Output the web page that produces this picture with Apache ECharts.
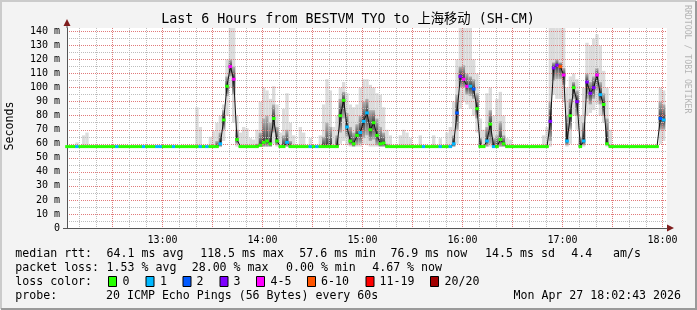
<!DOCTYPE html>
<html><head><meta charset="utf-8">
<script src="https://cdn.jsdelivr.net/npm/echarts@6/dist/echarts.min.js"></script>
<style>html,body{margin:0;padding:0;background:#f3f3f3}#c{width:697px;height:310px}</style>
</head><body><div id="c"></div>
<script>
// ---- data ----
const startMinuteOfDay = 12 * 60 + 2 + 43 / 60;   // 12:02:43
const stepMinutes = 2;
const spanMinutes = 360;
const hourLabels = ['13:00', '14:00', '15:00', '16:00', '17:00', '18:00'];
const title = 'Last 6 Hours from BESTVM TYO to 上海移动 (SH-CM)';
const yTitle = 'Seconds';

const median = [
 58,58,58,58,58,58,58,58,58,58,
 58,58,58,58,58,58,58,58,58,58,
 58,58,58,58,58,58,58,58,58,58,
 58,58,58,58,58,58,58,58,58,58,
 58,58,58,58,58,58,60,77,101,115,
 106,63,58,58,58,58,58,58,59,61,
 62,60,78,62,58,58,61,58,58,58,
 58,58,58,58,58,58,58,58,58,58,
 58,58,80,91,72,62,60,66,68,76,
 82,70,75,66,60,60.5,58,58,58,58,
 58,58,58,58,58,58,58,58,58,58,
 58,58,58,58,58,58,60,82,108,106,
 101,101,99,85,58,58,62,74,58,58,
 63,60,58,58,58,58,58,58,58,58,
 58,58,58,58,58,76,114,116,115,109,
 62,80,100,90,58,62,104,96,100,109,
 95,88,60,58,58,58,58,58,58,58,
 58,58,58,58,58,58,58,58,78,77,
 null];
const minPing = [
 57.6,57.6,57.6,57.6,57.6,57.6,57.6,57.6,57.6,57.6,
 57.6,57.6,57.6,57.6,57.6,57.6,57.6,57.6,57.6,57.6,
 57.6,57.6,57.6,57.6,57.6,57.6,57.6,57.6,57.6,57.6,
 57.6,57.6,57.6,57.6,57.6,57.6,57.6,57.6,57.6,57.6,
 57.6,57.6,57.6,57.6,57.6,57.6,57.6,62,80,100,
 75,58,57.6,57.6,57.6,57.6,57.6,57.6,57.6,57.7,
 57.7,57.7,60,58,57.6,57.6,57.7,57.6,57.6,57.6,
 57.6,57.6,57.6,57.6,57.6,57.6,57.6,57.6,57.6,57.6,
 57.6,57.6,60,62,59,58,57.7,58,58,60,
 59,58,58,58,57.7,57.7,57.6,57.6,57.6,57.6,
 57.6,57.6,57.6,57.6,57.6,57.6,57.6,57.6,57.6,57.6,
 57.6,57.6,57.6,57.6,57.6,57.6,57.7,60,85,90,
 88,85,80,68,57.6,57.6,57.7,58,57.6,57.6,
 57.7,57.7,57.6,57.6,57.6,57.6,57.6,57.6,57.6,57.6,
 57.6,57.6,57.6,57.6,57.6,58,95,92,92,90,
 58,60,80,70,57.6,58,80,82,84,88,
 80,75,58,57.6,57.6,57.6,57.6,57.6,57.6,57.6,
 57.6,57.6,57.6,57.6,57.6,57.6,57.6,57.6,60,62,
 null];
const maxPing = [
 58.6,58.6,58.6,61,58.6,66,68,58.6,58.6,58.6,
 58.6,58.6,58.6,58.6,58.6,58.6,58.6,58.6,58.6,58.6,
 58.6,58.6,58.6,58.6,58.6,58.6,58.6,58.6,58.6,58.6,
 58.6,58.6,58.6,58.6,58.6,58.6,58.6,58.6,58.6,86,
 72,58.6,58.6,65,69,75,80,88,120,145,
 145,80,68,72,71,64,63,70,90,100,
 98,92,101,88,68,85,96,75,66,58.6,
 72,68,58.6,64,58.6,58.6,66,88,106,98,
 72,80,100,104,96,88,86,88,100,106,
 106,102,100,96,95,86,70,66,58.6,58.6,
 66,70,68,64,58.6,58.6,66,58.6,58.6,58.6,
 66,58.6,64,58.6,68,72,90,120,145,145,
 145,145,120,110,78,70,96,100,80,92,
 97,80,64,63,58.6,58.6,58.6,58.6,58.6,58.6,
 58.6,58.6,58.6,66,72,145,145,145,145,145,
 100,108,110,106,80,100,132,130,135,138,
 130,112,100,70,58.6,58.6,58.6,58.6,58.6,58.6,
 58.6,58.6,58.6,58.6,58.6,58.6,58.6,58.6,100,98,
 null];
const coreLow = [
 57.8,57.8,57.8,57.8,57.8,57.8,57.8,57.8,57.8,57.8,
 57.8,57.8,57.8,57.8,57.8,57.8,57.8,57.8,57.8,57.8,
 57.8,57.8,57.8,57.8,57.8,57.8,57.8,57.8,57.8,57.8,
 57.8,57.8,57.8,57.8,57.8,57.8,57.8,57.8,57.8,57.8,
 57.8,57.8,57.8,57.8,57.8,57.8,58,70,94,108,
 95,60,57.8,57.8,57.8,57.8,57.8,57.8,58,58,
 58,58,68,59,57.8,57.8,58,57.8,57.8,57.8,
 57.8,57.8,57.8,57.8,57.8,57.8,57.8,57.8,57.8,57.8,
 57.8,57.8,68,78,65,59,58,59,60,64,
 66,62,63,59,58,58,57.8,57.8,57.8,57.8,
 57.8,57.8,57.8,57.8,57.8,57.8,57.8,57.8,57.8,57.8,
 57.8,57.8,57.8,57.8,57.8,57.8,58,70,100,100,
 95,94,92,78,57.8,57.8,58,60,57.8,57.8,
 58,58,57.8,57.8,57.8,57.8,57.8,57.8,57.8,57.8,
 57.8,57.8,57.8,57.8,57.8,62,105,106,106,102,
 59,70,92,80,57.8,59,92,88,92,98,
 88,80,59,57.8,57.8,57.8,57.8,57.8,57.8,57.8,
 57.8,57.8,57.8,57.8,57.8,57.8,57.8,57.8,70,70,
 null];
const coreHigh = [
 58.3,58.3,58.3,58.3,58.3,58.3,58.3,58.3,58.3,58.3,
 58.3,58.3,58.3,58.3,58.3,58.3,58.3,58.3,58.3,58.3,
 58.3,58.3,58.3,58.3,58.3,58.3,58.3,58.3,58.3,58.3,
 58.3,58.3,58.3,58.3,58.3,58.3,58.3,58.3,58.3,58.3,
 58.3,58.3,58.3,58.3,58.3,62,68,84,108,120,
 115,70,58.3,58.3,58.3,58.3,58.3,60,68,78,
 80,75,88,72,58.3,66,70,62,58.3,58.3,
 58.3,58.3,58.3,58.3,58.3,58.3,58.3,65,75,72,
 58.3,66,92,97,82,72,68,74,80,90,
 92,84,84,78,72,68,60,58.3,58.3,58.3,
 58.3,58.3,58.3,58.3,58.3,58.3,58.3,58.3,58.3,58.3,
 58.3,58.3,58.3,58.3,58.3,58.3,66,95,115,116,
 110,108,106,96,64,58.3,72,84,64,66,
 76,66,58.3,58.3,58.3,58.3,58.3,58.3,58.3,58.3,
 58.3,58.3,58.3,58.3,58.3,90,118,120,118,114,
 80,92,104,98,65,75,110,104,108,114,
 104,96,78,58.3,58.3,58.3,58.3,58.3,58.3,58.3,
 58.3,58.3,58.3,58.3,58.3,58.3,58.3,58.3,90,88,
 null];
const lostPings = [
 0,0,0,1,0,0,0,0,0,0,
 0,0,0,0,0,1,0,0,0,0,
 0,0,0,1,0,0,0,1,1,0,
 0,0,1,0,0,0,0,0,0,0,
 1,0,1,0,0,0,1,0,0,4,
 4,0,0,0,0,0,0,0,0,0,
 0,0,0,0,0,0,1,0,0,0,
 0,0,0,1,0,1,0,0,0,0,
 0,0,0,0,1,0,0,0,1,1,
 1,0,0,0,0,0,0,0,0,0,
 0,0,0,0,0,0,0,1,0,0,
 0,0,1,0,0,1,1,2,3,4,
 4,1,2,0,0,0,1,0,1,0,
 0,0,0,0,0,0,0,0,0,0,
 0,0,0,0,0,3,3,3,6,4,
 1,0,0,3,0,1,3,3,3,4,
 1,0,0,0,0,0,0,0,0,0,
 0,0,0,0,0,0,0,0,2,1,
 null];

const lossLabels = ['0', '1', '2', '3', '4-5', '6-10', '11-19', '20/20'];
const lossMax    = [0, 1, 2, 3, 5, 10, 19, 20];
const lossColors = ['#26ff00', '#00b8ff', '#0059ff', '#7e00ff', '#ff00ff', '#ff5500', '#ff0000', '#a10000'];
const lossBoxX   = [108, 145.5, 182.5, 219.5, 256, 307, 365.5, 430];
const lossTextX  = [122.5, 160, 196.5, 233.5, 270.5, 321, 379.5, 444.5];

const rttItems  = ['median rtt:', '64.1 ms avg', '118.5 ms max', '57.6 ms min', '76.9 ms now', '14.5 ms sd', '4.4', 'am/s'];
const rttX      = [15.3, 106.6, 200.2, 299.3, 390.4, 485.1, 571.3, 613.1];
const lossItems = ['packet loss:', '1.53 % avg', '28.00 % max', '0.00 % min', '4.67 % now'];
const lossItemX = [15.3, 106.6, 191.7, 286, 372.2];
const lossRowLabel = 'loss color:';
const probeRow = 'probe:       20 ICMP Echo Pings (56 Bytes) every 60s';
const stampText = 'Mon Apr 27 18:02:43 2026';
const watermark = 'RRDTOOL / TOBI OETIKER';

// ---- build ----
const FONT = '"DejaVu Sans Mono", "Noto Sans CJK SC", monospace';
const endMinute = startMinuteOfDay + spanMinutes;
const times = median.map((_, i) => startMinuteOfDay + i * stepMinutes);
function lossColor(l) { for (let k = 0; k < lossMax.length; k++) if (l <= lossMax[k]) return lossColors[k]; return '#000'; }
const medianData = median.map((v, i) => ({
  value: [times[i], v == null ? '-' : v],
  itemStyle: { color: v == null ? 'transparent' : lossColor(lostPings[i]) }
}));
const smokeData = median.map((v, i) => v == null ? [times[i], '-', '-', '-', '-', '-'] :
  [times[i], minPing[i], maxPing[i], coreLow[i], coreHigh[i], v]);
function hhmm(v) {
  const m = Math.round(v);
  if (Math.abs(v - m) > 1e-6) return '';
  return String(Math.floor(m / 60)).padStart(2, '0') + ':' + String(m % 60).padStart(2, '0');
}

function renderSmoke(params, api) {
  const lo = api.value(1);
  if (lo === '-' || lo == null || isNaN(lo)) return;
  const t = api.value(0), hi = api.value(2), q1 = api.value(3), q3 = api.value(4), med = api.value(5);
  const h = stepMinutes / 2;
  const cs = params.coordSys;
  const a = api.coord([t - h, hi]), b = api.coord([t + h, lo]);
  const c = api.coord([t - h, q3]), d = api.coord([t + h, q1]);
  const r1 = echarts.graphic.clipRectByRect({ x: a[0], y: a[1], width: b[0] - a[0], height: b[1] - a[1] }, cs);
  const r2 = echarts.graphic.clipRectByRect({ x: c[0], y: c[1], width: d[0] - c[0], height: d[1] - c[1] }, cs);
  let f = q3 > q1 ? (q3 - med) / (q3 - q1) : 0.5;
  f = Math.max(0.05, Math.min(0.95, f));
  const children = [];
  if (r1) children.push({ type: 'rect', shape: r1, style: { fill: '#dcdcdc' } });
  if (r2) children.push({ type: 'rect', shape: r2, style: { fill: new echarts.graphic.LinearGradient(0, 0, 0, 1, [
    { offset: 0, color: '#b4b4b4' }, { offset: f, color: '#3c3c3c' }, { offset: 1, color: '#b4b4b4' }]) } });
  return { type: 'group', children };
}

const red = '#e07a7a', grey = '#bdbdbd';
const F = '11.6px ' + FONT;

const graphics = [
  { type: 'polyline', shape: { points: [[1, 309], [1, 1], [696, 1]] }, style: { stroke: '#cbcbcb', lineWidth: 2, fill: null } },
  { type: 'polyline', shape: { points: [[1, 309], [696, 309], [696, 1]] }, style: { stroke: '#9a9a9a', lineWidth: 2, fill: null } },
  { type: 'text', x: 348, y: 20, style: { text: title, font: '13.3px ' + FONT, fill: '#000', align: 'center', verticalAlign: 'middle' } },
  { type: 'text', x: 10, y: 126, rotation: Math.PI / 2, style: { text: yTitle, font: F, fill: '#000', align: 'center', verticalAlign: 'middle' } },
  { type: 'text', x: 687, y: 5, rotation: -Math.PI / 2, style: { text: watermark, font: '8.2px ' + FONT, fill: '#b4b4b4', align: 'left', verticalAlign: 'middle' } },
  { type: 'polygon', shape: { points: [[67, 19], [63.5, 26], [70.5, 26]] }, style: { fill: '#7f1d1d' } },
  { type: 'line', shape: { x1: 67, y1: 26, x2: 67, y2: 28 }, style: { stroke: '#555', lineWidth: 1 } },
  { type: 'polygon', shape: { points: [[674, 228], [667, 224.5], [667, 231.5]] }, style: { fill: '#7f1d1d' } },
  { type: 'line', shape: { x1: 63, y1: 228.5, x2: 67, y2: 228.5 }, style: { stroke: '#555', lineWidth: 1 } },
  { type: 'text', x: 15.3, y: 282, style: { text: lossRowLabel, font: F, fill: '#000', verticalAlign: 'middle' } },
  { type: 'text', x: 15.3, y: 296, style: { text: probeRow, font: F, fill: '#000', verticalAlign: 'middle' } },
  { type: 'text', x: 681, y: 296, style: { text: stampText, font: F, fill: '#000', align: 'right', verticalAlign: 'middle' } }
];
rttItems.forEach((t, k) => graphics.push({ type: 'text', x: rttX[k], y: 254, style: { text: t, font: F, fill: '#000', verticalAlign: 'middle' } }));
lossItems.forEach((t, k) => graphics.push({ type: 'text', x: lossItemX[k], y: 268, style: { text: t, font: F, fill: '#000', verticalAlign: 'middle' } }));
lossLabels.forEach((lab, k) => {
  graphics.push({ type: 'rect', shape: { x: lossBoxX[k] + 0.5, y: 276.5, width: 8, height: 10 }, style: { fill: lossColors[k], stroke: '#000', lineWidth: 1 } });
  graphics.push({ type: 'text', x: lossTextX[k], y: 282, style: { text: lab, font: F, fill: '#000', verticalAlign: 'middle' } });
});

const chart = echarts.init(document.getElementById('c'), null, { renderer: 'canvas' });
chart.setOption({
  animation: false,
  backgroundColor: '#f3f3f3',
  grid: { left: 67, top: 28, width: 600, height: 200, show: true, backgroundColor: '#ffffff', borderWidth: 0, containLabel: false },
  xAxis: {
    // split lines every 10 minutes (aligned to whole 10-minute marks); every third one (on :00/:30) is red
    type: 'value', min: startMinuteOfDay, max: endMinute,
    minInterval: 10, maxInterval: 10,
    axisLine: { show: true, lineStyle: { color: '#555', width: 1 } },
    axisTick: { show: false },
    axisLabel: {
      show: true, margin: 7, color: '#000', fontFamily: FONT, fontSize: 10, hideOverlap: false,
      showMinLabel: false, showMaxLabel: false,
      formatter: v => { const s = hhmm(v); return hourLabels.indexOf(s) >= 0 ? s : ''; }
    },
    splitLine: { show: true, showMinLine: false, showMaxLine: false, lineStyle: { color: [grey, grey, red], width: 1, type: [1, 1] } },
    z: 3
  },
  yAxis: {
    // split lines every 5 m; the ones on multiples of 10 are red
    type: 'value', min: 0, max: 142.5, interval: 5,
    axisLine: { show: true, lineStyle: { color: '#555', width: 1 } },
    axisTick: { show: false },
    axisLabel: { margin: 7, color: '#000', fontFamily: FONT, fontSize: 10, showMaxLabel: false,
      formatter: v => (v % 10 !== 0) ? '' : (v === 0 ? '0' : v + ' m') },
    splitLine: { show: true, showMinLine: false, showMaxLine: false, lineStyle: { color: [grey, red], width: 1, type: [1, 1] } },
    z: 3
  },
  graphic: { elements: graphics },
  series: [
    { name: 'smoke', type: 'custom', data: smokeData, renderItem: renderSmoke,
      encode: { x: 0, y: [1, 2] }, silent: true, z: 2 },
    { name: 'median', type: 'line', data: medianData, symbol: 'rect', symbolSize: [3.6, 3], showAllSymbol: true,
      lineStyle: { color: '#111', width: 1 }, silent: true, z: 5 }
  ]
});
</script></body></html>
